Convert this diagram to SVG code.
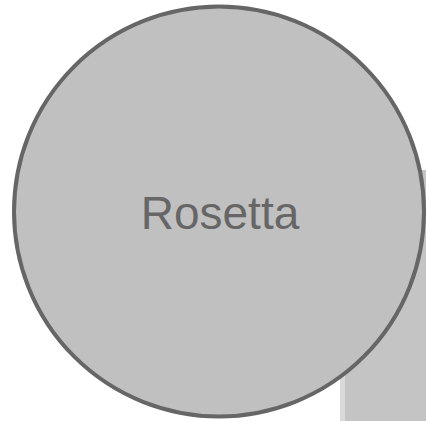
<svg xmlns="http://www.w3.org/2000/svg" width="426" height="421" viewBox="0 0 426 421">
<style>
.node{fill:#c0c0c0;stroke:#666666;stroke-width:4}
.label{font-family:"Liberation Sans",Arial,sans-serif;font-size:46px;fill:#666666;text-anchor:middle}
</style>
<rect x="0" y="0" width="426" height="421" fill="#ffffff"/>
<g id="shadow-rect">
<rect x="340" y="170" width="90" height="260" fill="#c4c4c4"/>
<rect x="340" y="170" width="5" height="260" fill="#dadada"/>
</g>
<g id="connectors"></g>
<g id="rosetta">
<circle class="node" cx="219" cy="211.5" r="205"/>
<text class="label" x="220" y="229">Rosetta</text>
</g>
</svg>
